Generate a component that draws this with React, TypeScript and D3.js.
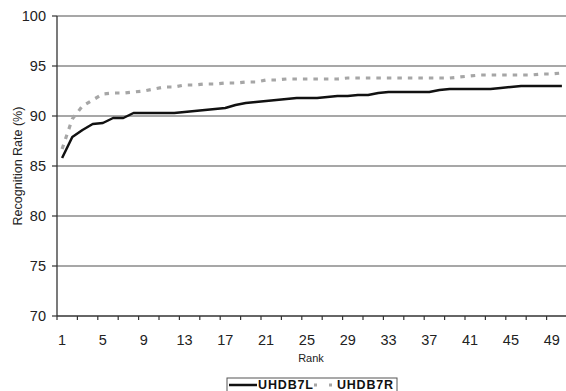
import React from "react";
import * as d3 from "d3";

const ranks: number[] = Array.from({ length: 50 }, (_, i) => i + 1);
const xTickLabels: number[] = [1, 5, 9, 13, 17, 21, 25, 29, 33, 37, 41, 45, 49];
const yTicks: number[] = [70, 75, 80, 85, 90, 95, 100];

const uhdb7L: number[] = [
  85.8, 87.9, 88.6, 89.2, 89.3, 89.8, 89.8, 90.3, 90.3, 90.3,
  90.3, 90.3, 90.4, 90.5, 90.6, 90.7, 90.8, 91.1, 91.3, 91.4,
  91.5, 91.6, 91.7, 91.8, 91.8, 91.8, 91.9, 92.0, 92.0, 92.1,
  92.1, 92.3, 92.4, 92.4, 92.4, 92.4, 92.4, 92.6, 92.7, 92.7,
  92.7, 92.7, 92.7, 92.8, 92.9, 93.0, 93.0, 93.0, 93.0, 93.0,
];
const uhdb7R: number[] = [
  86.7, 89.7, 91.0, 91.6, 92.2, 92.3, 92.3, 92.4, 92.5, 92.7,
  92.9, 92.9, 93.1, 93.1, 93.2, 93.2, 93.3, 93.3, 93.4, 93.4,
  93.6, 93.6, 93.7, 93.7, 93.7, 93.7, 93.7, 93.7, 93.8, 93.8,
  93.8, 93.8, 93.8, 93.8, 93.8, 93.8, 93.8, 93.8, 93.8, 93.9,
  94.0, 94.1, 94.1, 94.1, 94.1, 94.1, 94.1, 94.2, 94.2, 94.3,
];
const seriesNames: string[] = ["UHDB7L", "UHDB7R"];

const W = 566;
const H = 391;
const left = 57;
const bandW = 10.2;
const top = 16;
const bottom = 316;

export default function App() {
  const x = d3
    .scaleBand<number>()
    .domain(ranks)
    .range([left, left + ranks.length * bandW])
    .padding(0);
  const y = d3.scaleLinear().domain([70, 100]).range([bottom, top]);
  const cx = (r: number) => (x(r) as number) + x.bandwidth() / 2;

  const line = d3
    .line<number>()
    .x((_, i) => cx(ranks[i]))
    .y((d) => y(d));

  const font = "'Liberation Sans', Arial, sans-serif";
  const xRight = left + ranks.length * bandW;
  const tickEdges = ranks.filter((_, i) => i % 2 === 0).map((r) => x(r) as number);

  return (
    <svg
      width={W}
      height={H}
      style={{ position: "absolute", left: 0, top: 0, background: "#fff" }}
      fontFamily={font}
    >
      <rect x={0} y={0} width={W} height={H} fill="#fff" />
      {yTicks.filter((t) => t > 70).map((t) => (
        <line key={t} x1={left} x2={xRight} y1={y(t)} y2={y(t)} stroke="#8a8a8a" strokeWidth={1.3} />
      ))}
      <line x1={left} x2={left} y1={top} y2={bottom} stroke="#333" strokeWidth={1.3} />
      {yTicks.map((t) => (
        <g key={t}>
          <line x1={left - 5} x2={left} y1={y(t)} y2={y(t)} stroke="#333" strokeWidth={1.2} />
          <text x={46} y={y(t)} dy="0.36em" textAnchor="end" fontSize={14.5} fill="#222">
            {t}
          </text>
        </g>
      ))}
      <line x1={left} x2={xRight} y1={bottom} y2={bottom} stroke="#333" strokeWidth={1.5} />
      {tickEdges.map((ex, i) => (
        <line key={i} x1={ex} x2={ex} y1={bottom} y2={bottom + 4} stroke="#333" strokeWidth={1.2} />
      ))}
      {xTickLabels.map((r) => (
        <text key={r} x={cx(r)} y={345} textAnchor="middle" fontSize={14.5} fill="#222">
          {r}
        </text>
      ))}
      <text x={311} y={362} textAnchor="middle" fontSize={11} fill="#222">
        Rank
      </text>
      <text
        transform={`translate(22,${(top + bottom) / 2}) rotate(-90)`}
        textAnchor="middle"
        fontSize={12.5}
        fill="#222"
      >
        Recognition Rate (%)
      </text>
      <path d={line(uhdb7R) || ""} fill="none" stroke="#a6a6a6" strokeWidth={3.2} strokeDasharray="4.5 6" />
      <path d={line(uhdb7L) || ""} fill="none" stroke="#111" strokeWidth={2.5} strokeLinejoin="round" />
      <rect x={227} y={378} width={170} height={18} fill="#fff" stroke="#555" strokeWidth={1} />
      <line x1={229} x2={257} y1={385} y2={385} stroke="#111" strokeWidth={2.5} />
      <text x={258} y={388.5} fontSize={12.5} fontWeight="bold" fill="#111" textLength={55}>
        {seriesNames[0]}
      </text>
      <line x1={314} x2={335} y1={385} y2={385} stroke="#a6a6a6" strokeWidth={3} strokeDasharray="3 12" />
      <text x={337} y={388.5} fontSize={12.5} fontWeight="bold" fill="#111" textLength={56}>
        {seriesNames[1]}
      </text>
    </svg>
  );
}
